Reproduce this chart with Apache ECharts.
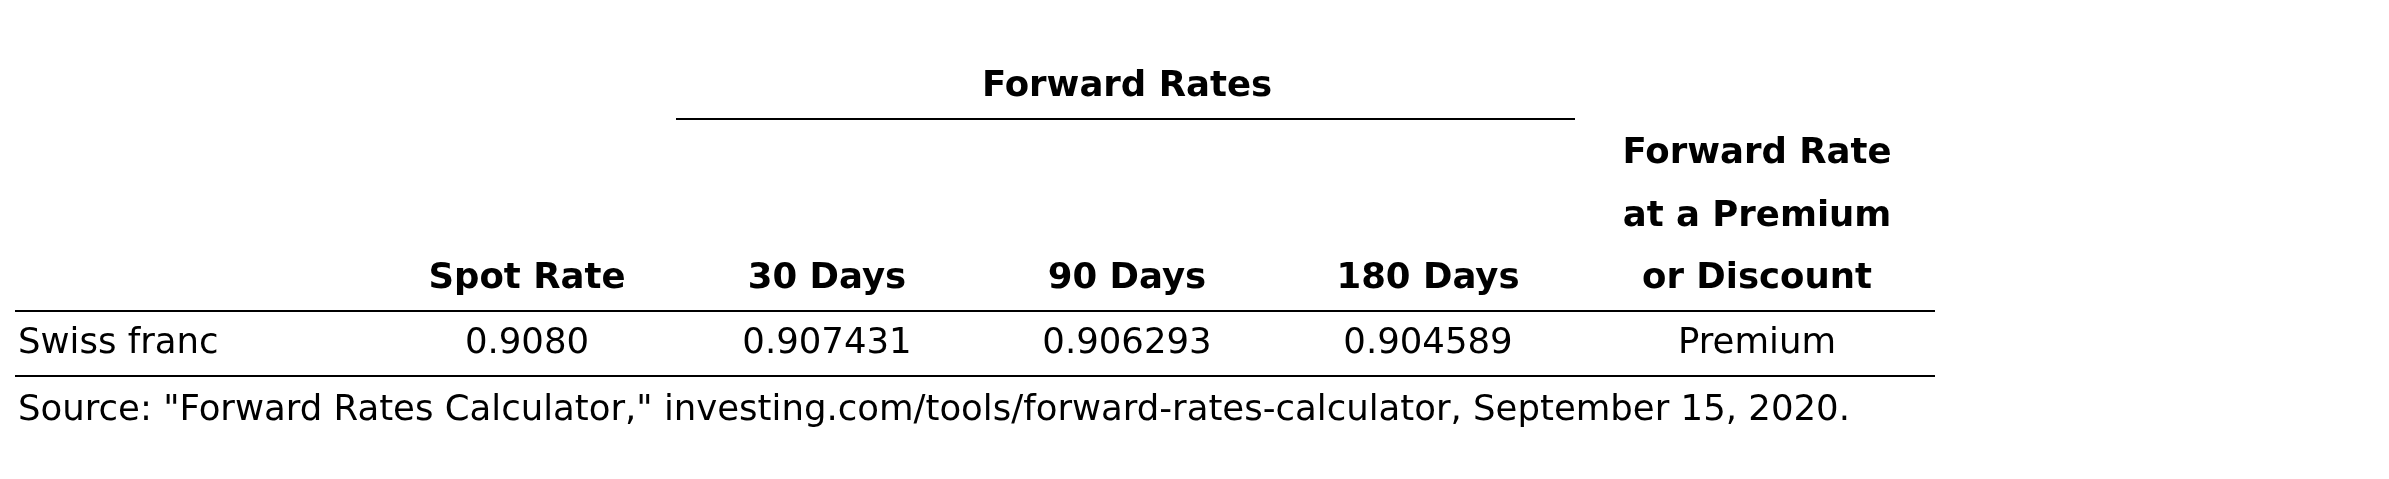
<!DOCTYPE html><html><head><meta charset="utf-8">
<script src="https://cdn.jsdelivr.net/npm/echarts@6/dist/echarts.min.js"></script>
<style>html,body{margin:0;background:#fff}#c{width:2389px;height:479px}</style></head><body><div id="c"></div>
<script>
const groupTitle = "Forward Rates";
const columns = ["Spot Rate","30 Days","90 Days","180 Days"];
const lastHeader = ["Forward Rate","at a Premium","or Discount"];
const rowLabels = ["Swiss franc"];
const rowValues = [["0.9080","0.907431","0.906293","0.904589","Premium"]];
const source = 'Source: "Forward Rates Calculator," investing.com/tools/forward-rates-calculator, September 15, 2020.';

const F = 'DejaVu Sans, Verdana, sans-serif', FS = 35.5;
const colX = [527, 827, 1127, 1428, 1757];
const els = [];
function t(x,y,s,bold,align){els.push({type:'text',x,y,style:{text:s,font:(bold?'bold ':'')+FS+'px '+F,fill:'#000',align:align||'center',verticalAlign:'middle'}});}
function l(x1,x2,y){els.push({type:'line',shape:{x1,y1:y,x2,y2:y},style:{stroke:'#000',lineWidth:2}});}
t(1127,87,groupTitle,true); l(676,1575,119);
lastHeader.forEach((s,i)=>t(colX[4],154+i*62.5,s,true));
columns.forEach((s,i)=>t(colX[i],279,s,true));
l(15,1935,311);
rowLabels.forEach((s,r)=>{t(18,344+r*64,s,false,'left'); rowValues[r].forEach((v,i)=>t(colX[i],344+r*64,v,false));});
l(15,1935,376);
t(18,411,source,false,'left');
const ch = echarts.init(document.getElementById('c'));
ch.setOption({graphic:{elements:els}});
</script></body></html>
